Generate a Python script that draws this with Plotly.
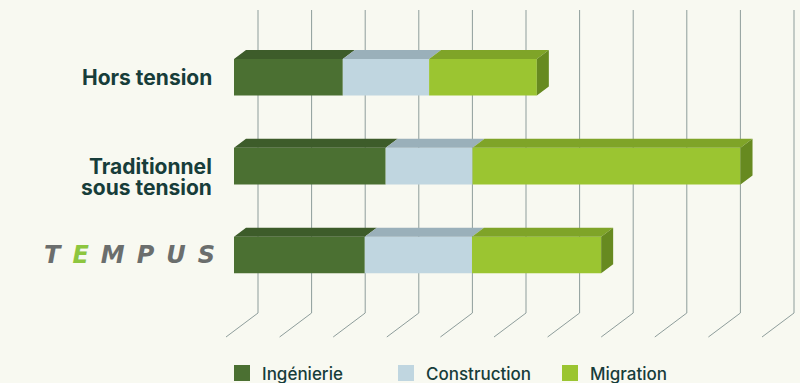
import plotly.graph_objects as go

# ---------------- data ----------------
categories = ["Hors tension", "Traditionnel<br>sous tension", "TEMPUS"]
series_names = ["Ingénierie", "Construction", "Migration"]
ingenierie = [2.03, 2.83, 2.44]
construction = [1.61, 1.62, 2.00]
migration = [2.01, 5.00, 2.41]
grid_ticks = [0, 1, 2, 3, 4, 5, 6, 7, 8, 9, 10]

# ---------------- style ----------------
BG = "#F8F9F1"
TEXT = "#173D3A"
GRID = "#8E9D9B"
FRONT = ["#4B7032", "#C0D6E0", "#9BC531"]
TOP = ["#3D5C2A", "#9AB0BA", "#7FA428"]
SIDE = "#678A20"

W, H = 800, 383
UX = 53.6          # px per value unit
UY = 88.9          # px per category step
X0PX = 234.0       # px of value 0 on bar front face
Y0PX = 77.2        # px of first category centre
BAR_T = 36.6 / UY  # bar thickness (category units)
DDX = 12 / UX      # bar depth shift (x)
DDY = 9 / UY       # bar depth shift (y, upwards)
WALL_DX = 24 / UX  # back wall offset from bar front
FLOOR_DX = 32 / UX # floor depth
FLOOR_DY = 24 / UY
GRID_TOP = (10 - Y0PX) / UY
GRID_BOT = (313 - Y0PX) / UY

xr = [-X0PX / UX, (W - X0PX) / UX]
yr = [(H - Y0PX) / UY, -Y0PX / UY]

series = [ingenierie, construction, migration]
ypos = list(range(len(categories)))

fig = go.Figure()

# front faces
bases = [0.0] * len(categories)
seg = []
for name, vals, col in zip(series_names, series, FRONT):
    fig.add_trace(go.Bar(
        y=ypos, x=vals, base=list(bases), orientation="h",
        width=BAR_T, marker=dict(color=col, line=dict(width=0)),
        name=name, showlegend=False, hoverinfo="x+name",
    ))
    seg.append([(b, b + v) for b, v in zip(bases, vals)])
    bases = [b + v for b, v in zip(bases, vals)]

# top faces
for k, (name, col) in enumerate(zip(series_names, TOP)):
    xs, ys = [], []
    for i, (a, b) in enumerate(seg[k]):
        yt = ypos[i] - BAR_T / 2
        xs += [a, b, b + DDX, a + DDX, a, None]
        ys += [yt, yt, yt - DDY, yt - DDY, yt, None]
    fig.add_trace(go.Scatter(x=xs, y=ys, mode="lines", fill="toself",
                             fillcolor=col, line=dict(width=0, color=col),
                             showlegend=False, hoverinfo="skip"))

# side faces (end of stack)
xs, ys = [], []
for i, total in enumerate(bases):
    yt = ypos[i] - BAR_T / 2
    yb = ypos[i] + BAR_T / 2
    xs += [total, total + DDX, total + DDX, total, total, None]
    ys += [yt, yt - DDY, yb - DDY, yb, yt, None]
fig.add_trace(go.Scatter(x=xs, y=ys, mode="lines", fill="toself",
                         fillcolor=SIDE, line=dict(width=0, color=SIDE),
                         showlegend=False, hoverinfo="skip"))

# legend entries
for name, col in zip(series_names, FRONT):
    fig.add_trace(go.Scatter(x=[None], y=[None], mode="markers", name=name,
                             marker=dict(symbol="square", size=19, color=col)))

# gridlines: back wall verticals + floor diagonals
shapes = []
for t in grid_ticks:
    xw = t + WALL_DX
    shapes.append(dict(type="line", xref="x", yref="y", layer="below",
                       x0=xw, x1=xw, y0=GRID_TOP, y1=GRID_BOT,
                       line=dict(color=GRID, width=1)))
    shapes.append(dict(type="line", xref="x", yref="y", layer="below",
                       x0=xw, x1=xw - FLOOR_DX, y0=GRID_BOT, y1=GRID_BOT + FLOOR_DY,
                       line=dict(color=GRID, width=1)))

# category labels
annotations = []
for i, cat in enumerate(categories):
    if cat == "TEMPUS":
        gap = "\u2002"
        txt = ("<b><i>T" + gap + "<span style='color:#8DC63F'>E</span>" + gap +
               gap.join(list("MPUS")) + "</i></b>")
        annotations.append(dict(x=217 / W, xref="paper", y=ypos[i], yref="y",
                                text=txt, showarrow=False, xanchor="right",
                                yanchor="middle",
                                font=dict(family="DejaVu Sans", size=24, color="#6B6E6D")))
        continue
    for j, line in enumerate(cat.split("<br>")):
        annotations.append(dict(x=214 / W, xref="paper", y=ypos[i], yref="y",
                                yshift=-21 * j, text=line, showarrow=False,
                                xanchor="right", yanchor="middle",
                                font=dict(family="Inter", size=21, color=TEXT,
                                          weight=700)))

fig.update_layout(
    width=W, height=H,
    margin=dict(l=0, r=0, t=0, b=0, autoexpand=False),
    paper_bgcolor=BG, plot_bgcolor=BG,
    barmode="overlay",
    xaxis=dict(range=xr, visible=False, fixedrange=True),
    yaxis=dict(range=yr, visible=False, fixedrange=True),
    shapes=shapes, annotations=annotations,
    showlegend=True,
    legend=dict(orientation="h", x=(234 - 12) / W, xanchor="left",
                y=-8.5 / H, yanchor="bottom", entrywidth=119,
                bgcolor="rgba(0,0,0,0)",
                font=dict(family="Inter", size=17, color=TEXT, weight=500)),
)

fig.write_html("out.html")
